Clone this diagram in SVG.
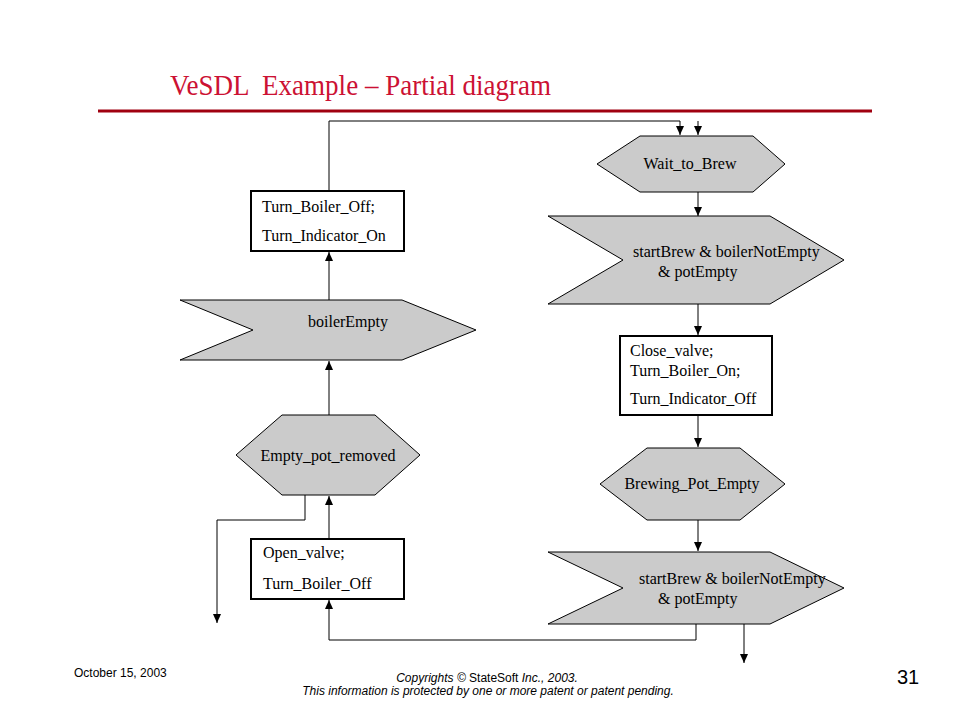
<svg xmlns="http://www.w3.org/2000/svg" width="960" height="720" viewBox="0 0 960 720">
<style>
.shape{fill:#cbcbcb;stroke:#000;stroke-width:1}
.box{fill:#fff;stroke:#000;stroke-width:2}
.lbl{font-family:"Liberation Sans",Arial,sans-serif;font-size:16px;fill:#000}
.lbl{font-family:"Liberation Serif","Times New Roman",serif}
.conn{fill:none;stroke:#000;stroke-width:1}
.foot{font-family:"Liberation Sans",Arial,sans-serif;font-size:12px;fill:#000}
</style>
<defs>
<marker id="ah" markerUnits="userSpaceOnUse" markerWidth="10" markerHeight="10" refX="9" refY="4" orient="auto">
<path d="M0,0 L9,4 L0,8 Z" fill="#000"/>
</marker>
</defs>
<rect width="960" height="720" fill="#fff"/>
<text x="170" y="95" font-family="Liberation Serif,'Times New Roman',serif" font-size="30" fill="#cc1133" xml:space="preserve" textLength="381" lengthAdjust="spacingAndGlyphs">VeSDL  Example – Partial diagram</text>
<line x1="98" y1="111" x2="872" y2="111" stroke="#a00010" stroke-width="3"/>

<g id="connectors">
<path class="conn" d="M329,191 V121 H680 V135" marker-end="url(#ah)"/>
<path class="conn" d="M698,121 V135" marker-end="url(#ah)"/>
<path class="conn" d="M698,192 V216" marker-end="url(#ah)"/>
<path class="conn" d="M698,304 V335" marker-end="url(#ah)"/>
<path class="conn" d="M698,415 V447" marker-end="url(#ah)"/>
<path class="conn" d="M698,520 V551" marker-end="url(#ah)"/>
<path class="conn" d="M696,624 V640 H329 V600" marker-end="url(#ah)"/>
<path class="conn" d="M744,624 V663" marker-end="url(#ah)"/>
<path class="conn" d="M329,539 V496" marker-end="url(#ah)"/>
<path class="conn" d="M305,495 V520 H217 V623" marker-end="url(#ah)"/>
<path class="conn" d="M329,415 V361" marker-end="url(#ah)"/>
<path class="conn" d="M329,300 V252" marker-end="url(#ah)"/>
</g>

<g id="wait_to_brew">
<polygon class="shape" points="597,164 640,136 753,136 785,164 753,192 640,192"/>
<text class="lbl" x="690" y="169" text-anchor="middle">Wait_to_Brew</text>
</g>
<g id="signal_startbrew_1">
<polygon class="shape" points="548,216 770,216 844,260 770,304 548,304 623,260"/>
<text class="lbl" x="633" y="257">startBrew &amp; boilerNotEmpty</text>
<text class="lbl" x="658" y="277">&amp; potEmpty</text>
</g>
<g id="close_valve">
<rect class="box" x="620" y="336" width="152" height="79"/>
<text class="lbl" x="630" y="356">Close_valve;</text>
<text class="lbl" x="630" y="376">Turn_Boiler_On;</text>
<text class="lbl" x="630" y="404">Turn_Indicator_Off</text>
</g>
<g id="brewing_pot_empty">
<polygon class="shape" points="600,484 647,448 740,448 785,484 740,520 647,520"/>
<text class="lbl" x="692" y="489" text-anchor="middle">Brewing_Pot_Empty</text>
</g>
<g id="signal_startbrew_2">
<polygon class="shape" points="548,552 770,552 844,588 770,624 548,624 623,588"/>
<text class="lbl" x="639" y="584">startBrew &amp; boilerNotEmpty</text>
<text class="lbl" x="658" y="604">&amp; potEmpty</text>
</g>
<g id="turn_boiler_off">
<rect class="box" x="251" y="191" width="153" height="60"/>
<text class="lbl" x="262" y="212">Turn_Boiler_Off;</text>
<text class="lbl" x="262" y="241">Turn_Indicator_On</text>
</g>
<g id="boiler_empty">
<polygon class="shape" points="180,300 402,300 476,330 402,360 180,360 253,330"/>
<text class="lbl" x="308" y="327">boilerEmpty</text>
</g>
<g id="empty_pot_removed">
<polygon class="shape" points="236,455 282,415 375,415 420,455 375,495 282,495"/>
<text class="lbl" x="328" y="461" text-anchor="middle">Empty_pot_removed</text>
</g>
<g id="open_valve">
<rect class="box" x="251" y="539" width="153" height="60"/>
<text class="lbl" x="263" y="558">Open_valve;</text>
<text class="lbl" x="263" y="589">Turn_Boiler_Off</text>
</g>

<text class="foot" x="74" y="677">October 15, 2003</text>
<text class="foot" x="487" y="682" text-anchor="middle" font-style="italic">Copyrights © <tspan font-style="normal">StateSoft</tspan> Inc., 2003.</text>
<text class="foot" x="488" y="695" text-anchor="middle" font-style="italic">This information is protected by one or more patent or patent pending.</text>
<text x="908" y="684" text-anchor="middle" font-family="Liberation Sans,Arial,sans-serif" font-size="20" fill="#000">31</text>
</svg>
